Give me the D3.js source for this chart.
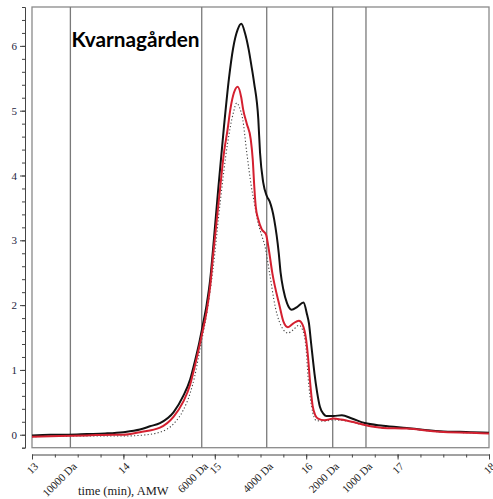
<!DOCTYPE html>
<html>
<head>
<meta charset="utf-8">
<script src="https://cdn.jsdelivr.net/npm/d3@7"></script>
<style>
html,body{margin:0;padding:0;background:#fff;}
svg{display:block;}
</style>
</head>
<body>
<svg id="chart" width="493" height="499"></svg>
<script>
// ---- data ----
const title = "Kvarnagården";
const xLabel = "time (min), AMW";
const xTicks = [13, 14, 15, 16, 17, 18];
const yTicks = [0, 1, 2, 3, 4, 5, 6];
const markerTimes = [13.42, 14.857, 15.568, 16.29, 16.654];
const markerLabels = ["10000 Da", "6000 Da", "4000 Da", "2000 Da", "1000 Da"];

const blackT = [13.0,13.2,13.4,13.6,13.8,14.0,14.18,14.29,14.40,14.55,14.655,14.73,14.78,14.83,14.87,14.91,14.95,14.98,15.04,15.10,15.155,15.20,15.25,15.29,15.33,15.37,15.40,15.43,15.476,15.495,15.53,15.57,15.60,15.65,15.70,15.72,15.75,15.79,15.84,15.90,15.97,16.01,16.03,16.05,16.07,16.09,16.12,16.15,16.19,16.22,16.30,16.39,16.5,16.64,16.84,17.1,17.46,17.8,18.0];
const blackV = [-0.01,0.0,0.0,0.01,0.02,0.04,0.08,0.13,0.18,0.35,0.6,0.85,1.12,1.42,1.7,2.0,2.4,2.85,3.83,4.75,5.5,5.96,6.25,6.34,6.2,5.95,5.7,5.43,4.87,4.35,3.89,3.68,3.6,3.32,2.8,2.5,2.24,2.03,1.93,1.97,2.04,1.85,1.72,1.46,1.2,0.95,0.65,0.43,0.32,0.29,0.29,0.30,0.25,0.18,0.14,0.105,0.055,0.04,0.03];

const redT = [13.0,13.3,13.6,13.9,14.0,14.18,14.40,14.55,14.655,14.73,14.78,14.83,14.87,14.91,14.95,14.98,15.06,15.10,15.14,15.17,15.21,15.25,15.29,15.31,15.35,15.393,15.415,15.432,15.448,15.476,15.513,15.56,15.585,15.63,15.71,15.75,15.80,15.86,15.92,15.96,16.0,16.02,16.04,16.07,16.10,16.13,16.2,16.30,16.38,16.5,16.64,16.84,17.1,17.46,17.8,18.0];
const redV = [-0.03,-0.02,-0.01,0.0,0.0,0.04,0.11,0.28,0.51,0.77,1.05,1.36,1.62,1.9,2.3,2.75,3.83,4.35,4.71,5.02,5.28,5.37,5.2,5.02,4.8,4.56,4.25,3.83,3.52,3.32,3.17,3.09,2.91,2.49,1.98,1.75,1.66,1.72,1.76,1.7,1.46,1.2,0.85,0.45,0.3,0.25,0.225,0.25,0.235,0.2,0.15,0.105,0.095,0.045,0.03,0.02];

const dotT = [13.0,13.5,14.0,14.18,14.40,14.55,14.655,14.73,14.78,14.83,14.87,14.91,14.98,15.06,15.14,15.20,15.24,15.27,15.305,15.35,15.40,15.44,15.465,15.51,15.55,15.60,15.66,15.75,15.80,15.86,15.92,15.96,16.0,16.02,16.06,16.11,16.2,16.3,16.4,16.64,16.84,17.1,17.46,17.8,18.0];
const dotV = [-0.03,-0.02,-0.02,-0.01,0.04,0.17,0.38,0.64,0.9,1.26,1.55,1.85,2.55,3.6,4.5,4.95,5.12,5.05,4.87,4.35,3.83,3.52,3.32,3.09,2.9,2.49,1.98,1.62,1.57,1.62,1.69,1.62,1.31,0.9,0.43,0.22,0.21,0.23,0.22,0.15,0.105,0.095,0.045,0.03,0.02];

// ---- layout ----
const svg = d3.select("#chart");
const x = d3.scaleLinear().domain([13, 18]).range([32, 489]);
const y = d3.scaleLinear().domain([-0.2, 6.6]).range([447.7, 7]);
const serif = "'Liberation Serif','Times New Roman',serif";

// frame
svg.append("rect")
  .attr("x", x(13)).attr("y", y(6.6))
  .attr("width", x(18) - x(13)).attr("height", y(-0.2) - y(6.6))
  .attr("fill", "none").attr("stroke", "#8a8a8a").attr("stroke-width", 1.3);

// marker vertical lines
svg.append("g").selectAll("line").data(markerTimes).join("line")
  .attr("x1", d => x(d)).attr("x2", d => x(d))
  .attr("y1", y(6.6)).attr("y2", y(-0.2))
  .attr("stroke", "#7a7a7a").attr("stroke-width", 1.3);

// y axis (offset to the left of the frame)
const yMinor = d3.range(-0.2, 6.61, 0.2).map(v => +v.toFixed(2));
const yAxisG = svg.append("g").attr("transform", "translate(25,0)");
yAxisG.append("g")
  .call(d3.axisLeft(y).tickValues(yMinor).tickSize(3).tickFormat(""))
  .call(g => g.select(".domain").attr("stroke", "#444"))
  .call(g => g.selectAll(".tick line").attr("stroke", "#444"));
yAxisG.append("g")
  .call(d3.axisLeft(y).tickValues(yTicks).tickSize(5).tickPadding(3).tickFormat(d3.format("d")))
  .call(g => g.select(".domain").remove())
  .call(g => g.selectAll(".tick line").attr("stroke", "#444"))
  .call(g => g.selectAll("text").attr("font-family", serif).attr("font-size", 11).attr("fill", "#1d2340"));

// x axis (offset below the frame)
const xMinor = d3.range(13, 18.01, 0.25).map(v => +v.toFixed(2));
const xAxisG = svg.append("g").attr("transform", "translate(0,454.5)");
xAxisG.append("g")
  .call(d3.axisBottom(x).tickValues(xMinor).tickSize(3).tickFormat(""))
  .call(g => g.select(".domain").attr("stroke", "#444"))
  .call(g => g.selectAll(".tick line").attr("stroke", "#444"));
xAxisG.append("g")
  .call(d3.axisBottom(x).tickValues(xTicks).tickSize(5).tickFormat(""))
  .call(g => g.select(".domain").remove())
  .call(g => g.selectAll(".tick line").attr("stroke", "#444"));

// rotated x labels
const xLabelData = xTicks.map(t => ({t, s: String(t)}))
  .concat(markerTimes.map((t, i) => ({t, s: markerLabels[i]})));
svg.append("g").selectAll("text").data(xLabelData).join("text")
  .attr("transform", d => `translate(${x(d.t) + 7},${467}) rotate(-45)`)
  .attr("text-anchor", "end")
  .attr("font-family", serif).attr("font-size", 11).attr("fill", "#222")
  .text(d => d.s);

svg.append("text")
  .attr("x", 78).attr("y", 495)
  .attr("font-family", serif).attr("font-size", 12.5).attr("fill", "#222")
  .text(xLabel);

// curves
const line = d3.line().x(d => x(d[0])).y(d => y(d[1])).curve(d3.curveMonotoneX);
const zip = (a, b) => a.map((v, i) => [v, b[i]]);

svg.append("path").datum(zip(dotT, dotV))
  .attr("d", line).attr("fill", "none")
  .attr("stroke", "#444").attr("stroke-width", 1.1).attr("stroke-dasharray", "1.2,2.2");
svg.append("path").datum(zip(blackT, blackV))
  .attr("d", line).attr("fill", "none")
  .attr("stroke", "#111").attr("stroke-width", 2);
svg.append("path").datum(zip(redT, redV))
  .attr("d", line).attr("fill", "none")
  .attr("stroke", "#d42030").attr("stroke-width", 2);

// title
svg.append("text")
  .attr("x", 71.5).attr("y", 47)
  .attr("font-family", "Lato, 'Open Sans', sans-serif").attr("font-weight", "bold")
  .attr("font-size", 20.5).attr("fill", "#000")
  .attr("textLength", 128).attr("lengthAdjust", "spacingAndGlyphs")
  .text(title);
</script>
</body>
</html>
